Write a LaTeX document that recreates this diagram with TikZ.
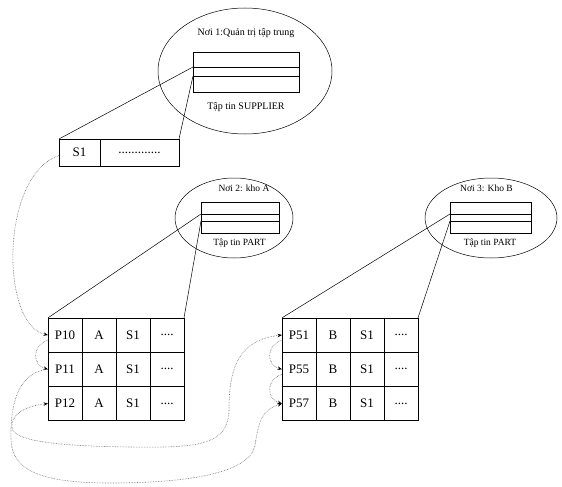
\documentclass[tikz,border=0pt]{standalone}
\usepackage{fontspec}
\setmainfont{Liberation Serif}
\usetikzlibrary{arrows.meta}
\usetikzlibrary{positioning}
\usetikzlibrary{shapes.geometric}

\tikzset{
  site/.style={draw, ellipse, line width=0.5pt, inner sep=0pt},
  band/.style={draw, inner sep=0pt, outer sep=0pt, line width=0.6pt},
  cell/.style={draw, minimum width=34pt, minimum height=34.3pt, inner sep=0pt,
    outer sep=0pt, line width=0.6pt, font=\fontsize{13}{13}\selectfont},
  more/.style={cell},
  caption/.style={inner sep=0pt, font=\fontsize{10}{12}\selectfont},
  link/.style={line width=0.5pt},
  chain/.style={>={Stealth[black, length=4.5pt, width=3.5pt]}, black!60,
    densely dotted, line width=0.6pt},
}

\begin{document}
\begin{tikzpicture}[x=1pt, y=-1pt, node distance=0pt]
    \useasboundingbox (0,0) rectangle (562,487);

    % Noi 1
    \node [site, minimum width=174pt, minimum height=126pt] (site1) at (245,71) {};
    \node [band, minimum width=106pt, minimum height=15pt] (sup1) at (246,59.5) {};
    \node [band, minimum width=106pt, minimum height=9pt] (sup2) [below=of sup1] {};
    \node [band, minimum width=106pt, minimum height=16pt] (sup3) [below=of sup2] {};
    \node [caption] (site1name) at (246,33) {Nơi 1:Quản trị tập trung};
    \node [caption] (supfile) at (246,107) {Tập tin SUPPLIER};

    % Noi 2
    \node [site, minimum width=118pt, minimum height=80pt] (site2) at (234,218) {};
    \node [band, minimum width=78pt, minimum height=12pt] (parta1) at (240,208) {};
    \node [band, minimum width=78pt, minimum height=7pt] (parta2) [below=of parta1] {};
    \node [band, minimum width=78pt, minimum height=12pt] (parta3) [below=of parta2] {};
    \node [caption, font=\fontsize{9.5}{11}\selectfont] (site2name) at (244,188) {Nơi 2: kho A};
    \node [caption, font=\fontsize{9.5}{11}\selectfont] (partafile) at (239.5,243) {Tập tin PART};

    % Noi 3
    \node [site, minimum width=132pt, minimum height=80pt] (site3) at (491,218) {};
    \node [band, minimum width=81pt, minimum height=12pt] (partb1) at (490.5,208) {};
    \node [band, minimum width=81pt, minimum height=7pt] (partb2) [below=of partb1] {};
    \node [band, minimum width=81pt, minimum height=12pt] (partb3) [below=of partb2] {};
    \node [caption, font=\fontsize{9.5}{11}\selectfont] (site3name) at (486.5,188) {Nơi 3: Kho B};
    \node [caption, font=\fontsize{9.5}{11}\selectfont] (partbfile) at (490,243) {Tập tin PART};

    % ban ghi S1
    \node [cell, minimum width=41pt, minimum height=27pt] (s1) at (79.5,152.5) {S1};
    \node [more, minimum width=79pt, minimum height=27pt] (s1etc) [right=of s1] {.............};

    % bang PART o kho A
    \node [cell] (p10) at (65,335) {P10};
    \node [cell] (p10loc) [right=of p10] {A};
    \node [cell] (p10sup) [right=of p10loc] {S1};
    \node [more] (p10etc) [right=of p10sup] {....};
    \node [cell] (p11) [below=of p10] {P11};
    \node [cell] (p11loc) [right=of p11] {A};
    \node [cell] (p11sup) [right=of p11loc] {S1};
    \node [more] (p11etc) [right=of p11sup] {....};
    \node [cell] (p12) [below=of p11] {P12};
    \node [cell] (p12loc) [right=of p12] {A};
    \node [cell] (p12sup) [right=of p12loc] {S1};
    \node [more] (p12etc) [right=of p12sup] {....};

    % bang PART o kho B
    \node [cell] (p51) at (299,335) {P51};
    \node [cell] (p51loc) [right=of p51] {B};
    \node [cell] (p51sup) [right=of p51loc] {S1};
    \node [more] (p51etc) [right=of p51sup] {....};
    \node [cell] (p55) [below=of p51] {P55};
    \node [cell] (p55loc) [right=of p55] {B};
    \node [cell] (p55sup) [right=of p55loc] {S1};
    \node [more] (p55etc) [right=of p55sup] {....};
    \node [cell] (p57) [below=of p55] {P57};
    \node [cell] (p57loc) [right=of p57] {B};
    \node [cell] (p57sup) [right=of p57loc] {S1};
    \node [more] (p57etc) [right=of p57sup] {....};

    % ban ghi -> tap tin
    \draw [link] (s1.north west) -- (sup2.north west);
    \draw [link] (s1etc.north east) -- (sup2.south west);
    \draw [link] (p10.north west) -- (parta2.north west);
    \draw [link] (p10etc.north east) -- (parta2.south west);
    \draw [link] (p51.north west) -- (partb2.north west);
    \draw [link] (p51etc.north east) -- (partb2.south west);

    % danh sach lien ket
    \draw [chain, ->] ([yshift=-3pt]s1.west) .. controls (0,175) and (0,325) .. (p10.west);
    \draw [chain, ->] ([yshift=-5pt]p10.west) .. controls (32,345) and (32,365) .. (p11.west);
    \draw [chain, ->] ([yshift=-5pt]p51.west) .. controls (266,345) and (266,365) .. (p55.west);
    \draw [chain, ->] ([yshift=-5pt]p55.west) .. controls (266,379) and (266,399) .. (p57.west);
    \draw [chain, ->] (p11.west) .. controls (20,372) and (10,400) .. (11,440)
        .. controls (12,470) and (40,483) .. (110,483)
        .. controls (180,483) and (250,475) .. (255,445)
        .. controls (259,420) and (262,410) .. (p57.west);
    \draw [chain, <->] (p12.west) .. controls (25,406) and (10,415) .. (12,428)
        .. controls (14,440) and (50,446) .. (130,447)
        .. controls (200,448) and (228,445) .. (229,410)
        .. controls (229,365) and (240,340) .. (p51.west);
\end{tikzpicture}
\end{document}
